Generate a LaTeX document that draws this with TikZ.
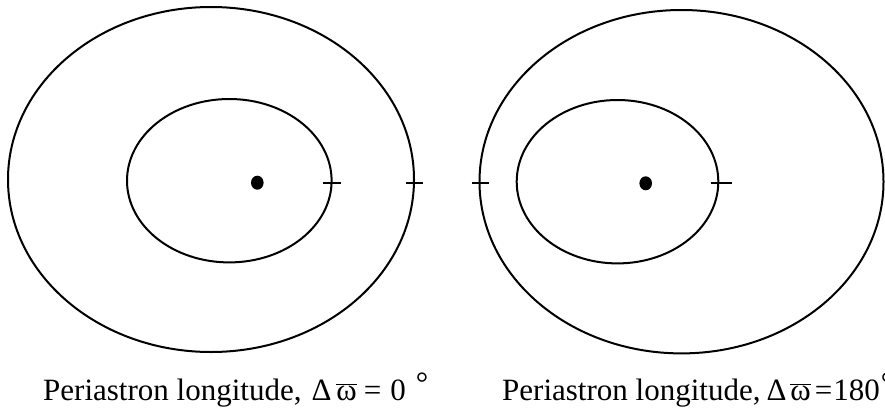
\documentclass[tikz,border=0pt]{standalone}
\usepackage{fontspec}
\setmainfont{Liberation Serif}
\begin{document}
\begin{tikzpicture}[x=1pt,y=-1pt,
  orbit/.style={line width=2pt},
  tickmark/.style={line width=2pt},
  star/.style={fill=black},
  lbl/.style={anchor=base west, inner sep=0pt, font=\fontsize{31}{37}\selectfont}]
\useasboundingbox[fill=white] (0,0) rectangle (885,410);
% left panel
\draw[orbit] (211,179.5) ellipse [x radius=203, y radius=172.5];
\draw[orbit] (229.3,180.7) ellipse [x radius=102.3, y radius=81.7];
\fill[star] (257.3,182.7) ellipse [x radius=6.3, y radius=7];
\coordinate (la1) at (323,183.3);
\coordinate (la2) at (341,183.3);
\coordinate (lb1) at (406,183.3);
\coordinate (lb2) at (423,183.3);
\draw[tickmark] (la1) -- (la2);
\draw[tickmark] (lb1) -- (lb2);
\node[lbl] (lblA) at (43,400) {Periastron longitude,\hspace{10pt}Δ\hspace{5pt}$\overline{\hbox{ω}}$\hspace{7pt}=\hspace{9pt}0\hspace{10pt}\raisebox{7pt}{°}};
% right panel
\draw[orbit] (681.5,181.7) ellipse [x radius=202, y radius=171.7];
\draw[orbit] (617.5,181.7) ellipse [x radius=100.8, y radius=81.7];
\fill[star] (645.7,183.3) ellipse [x radius=6.3, y radius=7];
\coordinate (ra1) at (471.7,183.3);
\coordinate (ra2) at (489,183.3);
\coordinate (rb1) at (710.7,183.3);
\coordinate (rb2) at (731.7,183.3);
\draw[tickmark] (ra1) -- (ra2);
\draw[tickmark] (rb1) -- (rb2);
\node[lbl] (lblB) at (502,400) {Periastron longitude,\hspace{6pt}Δ\hspace{4pt}$\overline{\hbox{ω}}$\hspace{4pt}=\hspace{1pt}180\hspace{1pt}\raisebox{7pt}{°}};
\end{tikzpicture}
\end{document}
